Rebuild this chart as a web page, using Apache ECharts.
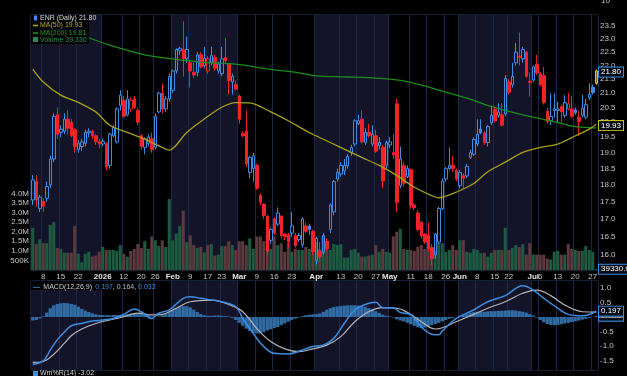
<!DOCTYPE html>
<html>
<head>
<meta charset="utf-8">
<script src="https://cdn.jsdelivr.net/npm/echarts@6/dist/echarts.min.js"></script>
<style>
html, body { margin: 0; padding: 0; background: #000; }
#main { width: 627px; height: 376px; }
</style>
</head>
<body>
<div id="main"></div>
<script>
// trading days per month
var dec25 = [3,4,5,8,9,10,11,12,15,16,17,18,19,22,23,24,26,29,30,31];
var jan26 = [2,5,6,7,8,9,12,13,14,15,16,20,21,22,23,26,27,28,29,30];
var feb26 = [2,3,4,5,6,9,10,11,12,13,17,18,19,20,23,24,25,26,27];
var mar26 = [2,3,4,5,6,9,10,11,12,13,16,17,18,19,20,23,24,25,26,27,30,31];
var apr26 = [1,2,6,7,8,9,10,13,14,15,16,17,20,21,22,23,24,27,28,29,30];
var may26 = [1,4,5,6,7,8,11,12,13,14,15,18,19,20,21,22,26,27,28,29];
var jun26 = [1,2,3,4,5,8,9,10,11,12,15,16,17,18,22,23,24,25,26,29,30];
var jul26 = [1,2,6,7,8,9,10,13,14,15,16,17,20,21,22,23,24,27,28];

var tickDates = ['2025-12-08','2025-12-15','2025-12-22','2026-01-02','2026-01-12','2026-01-20','2026-01-26',
  '2026-02-02','2026-02-09','2026-02-17','2026-02-23','2026-03-02','2026-03-09','2026-03-16','2026-03-23',
  '2026-04-01','2026-04-13','2026-04-20','2026-04-27','2026-05-01','2026-05-11','2026-05-18','2026-05-26',
  '2026-06-01','2026-06-08','2026-06-15','2026-06-22','2026-07-01','2026-07-06','2026-07-13','2026-07-20','2026-07-27'];
var tickLabels = ['8','15','22','2026','12','20','26','Feb','9','17','23','Mar','9','16','23',
  'Apr','13','20','27','May','11','18','26','Jun','8','15','22','Jul','6','13','20','27'];

var open = [17.55,18.1,17.3,17.5,17.6,18.0,18.8,20.25,19.66,19.7,
  20.1,20.0,19.75,19.1,19.2,19.3,19.65,19.7,19.55,19.35,
  19.28,19.3,18.6,19.55,19.35,20.57,20.75,20.25,20.45,20.8,
  20.4,19.55,19.17,19.3,19.45,19.17,20.35,21.0,20.45,20.8,
  21.1,21.8,22.55,22.6,22.25,22.1,21.75,21.75,22.4,22.0,
  21.8,22.12,22.3,21.8,21.7,22.3,22.05,21.4,21.3,20.9,
  19.62,19.7,18.38,18.5,18.6,17.68,17.43,17.08,16.4,17.0,
  16.85,17.08,16.57,16.55,16.6,16.53,16.42,16.28,16.8,16.8,
  16.65,15.85,16.1,16.07,16.37,16.7,17.2,18.18,18.33,18.43,
  18.58,19.0,19.28,19.95,20.1,19.33,19.66,19.28,19.55,19.22,
  19.17,18.6,19.25,19.0,20.63,17.98,18.6,18.25,18.47,17.4,
  17.17,16.9,16.57,16.53,16.2,16.0,16.35,17.3,18.18,18.5,
  18.6,18.43,17.98,18.28,18.27,18.85,18.95,19.28,19.77,19.64,
  19.33,19.98,20.43,20.23,20.25,20.28,21.4,21.3,22.1,22.35,
  22.25,22.5,21.43,21.47,22.05,21.7,21.63,20.37,20.05,20.4,
  20.4,20.53,20.23,20.45,20.45,20.42,20.17,20.23,20.17,20.84,
  21.2,21.35];
var high = [18.3,18.3,17.7,17.6,18.1,18.9,20.3,20.5,19.9,20.3,
  20.4,20.1,19.8,19.4,19.45,19.75,19.8,19.75,19.6,19.45,
  19.45,19.35,19.65,19.9,20.5,21.1,20.9,21.1,20.85,20.9,
  20.5,19.6,19.5,19.6,19.65,20.3,21.05,21.35,20.9,21.7,
  21.85,22.65,22.7,23.7,23.1,22.2,22.1,22.5,22.5,22.7,
  22.35,22.7,22.4,22.15,22.7,23.05,22.1,21.7,21.45,20.95,
  19.7,20.4,18.9,19.0,18.65,17.75,17.45,17.1,16.75,17.05,
  17.33,17.1,16.6,16.6,17.2,16.6,16.6,17.05,16.9,16.85,
  16.7,16.5,16.35,16.6,16.45,17.45,18.15,18.5,18.7,18.8,
  18.95,19.25,20.1,20.25,20.4,19.8,19.95,19.9,19.75,19.5,
  19.25,19.4,19.5,19.6,20.8,19.2,18.7,18.6,18.5,17.45,
  17.25,16.95,16.6,16.9,16.3,16.6,17.35,18.2,18.55,19.17,
  18.9,18.5,18.45,18.35,18.65,19.1,19.5,20.1,20.1,19.7,
  19.9,20.57,20.5,20.65,20.65,21.65,21.5,22.1,22.85,23.25,
  22.7,22.55,21.75,22.0,22.4,21.75,21.95,20.5,21.0,21.0,
  20.7,20.6,20.93,21.0,20.9,20.5,20.4,20.95,20.8,21.35,
  21.3,21.85];
var low = [17.4,17.35,17.2,17.2,17.5,17.9,18.7,19.45,19.5,19.6,
  19.6,19.5,19.0,19.0,19.05,19.2,19.5,19.45,19.25,19.15,
  19.2,18.45,18.5,19.5,19.3,20.4,20.15,20.2,20.35,20.45,
  19.9,19.1,18.95,19.2,19.0,19.1,20.3,20.3,20.35,20.7,
  21.0,21.7,22.4,21.6,22.1,21.2,21.55,21.6,21.9,21.9,
  21.7,22.0,21.8,21.7,21.6,22.1,20.95,20.95,21.1,19.95,
  19.5,18.55,18.2,18.1,17.85,17.4,17.0,16.0,16.3,16.55,
  16.8,16.45,16.4,16.2,16.5,16.2,16.35,16.2,16.6,16.55,
  16.0,15.75,15.8,16.0,16.1,16.6,17.1,18.1,18.25,18.3,
  18.5,18.9,19.2,19.9,19.3,19.25,19.5,19.2,19.0,19.1,
  17.9,18.5,19.15,18.8,17.2,17.9,17.95,18.2,17.3,17.25,
  16.65,16.45,16.3,16.1,15.72,15.9,16.3,17.25,18.1,18.45,
  18.4,18.1,17.9,17.9,18.2,18.8,18.9,19.2,19.6,19.25,
  19.2,19.9,20.0,20.15,19.85,20.2,20.95,21.2,22.0,22.0,
  22.1,21.55,20.88,21.4,21.65,21.25,20.6,19.95,19.9,20.15,
  20.0,20.0,20.15,20.4,20.15,20.25,19.55,20.15,20.1,20.75,
  20.95,21.3];
var close = [18.15,17.55,17.63,17.37,17.95,18.8,20.2,19.6,19.77,20.1,
  19.8,19.55,19.2,19.3,19.35,19.66,19.7,19.55,19.35,19.28,
  19.36,18.55,19.6,19.82,20.45,20.93,20.2,20.8,20.75,20.5,
  20.0,19.2,19.45,19.5,19.1,20.2,21.0,20.45,20.8,21.6,
  21.8,22.6,22.65,22.25,22.6,21.8,21.65,22.4,21.95,22.27,
  22.25,22.37,21.9,22.05,22.25,22.18,21.45,21.6,21.15,20.1,
  19.55,18.65,18.85,18.9,17.9,17.48,17.1,16.1,16.7,16.6,
  17.17,16.53,16.5,16.35,16.8,16.25,16.53,17.0,16.65,16.7,
  16.08,16.45,15.95,16.53,16.17,17.4,18.1,18.38,18.6,18.6,
  18.88,19.17,20.05,20.05,19.35,19.66,19.56,19.6,19.05,19.33,
  18.12,19.33,19.35,18.93,17.48,18.8,18.05,18.5,17.4,17.32,
  16.7,16.52,16.35,16.17,15.9,16.57,17.3,18.12,18.5,18.6,
  18.5,18.18,18.38,18.2,18.57,19.0,19.43,19.6,19.64,19.33,
  19.85,20.23,20.05,20.35,19.9,21.53,21.02,21.6,22.5,22.3,
  22.6,21.6,21.38,21.95,21.73,21.3,20.67,20.02,20.2,20.45,
  20.45,20.35,20.67,20.63,20.2,20.32,20.02,20.48,20.6,20.96,
  21.02,21.8];
// volume in millions of shares
var volumeM = [2.2,1.35,1.6,1.4,1.4,2.35,2.5,1.15,1.1,0.9,
  0.9,0.9,2.3,0.85,0.4,0.85,0.95,0.7,0.75,0.95,
  1.2,1.05,1.05,1.05,1.0,1.3,0.85,0.7,1.0,1.1,
  1.35,1.15,1.5,1.1,1.75,1.55,1.25,1.55,1.2,3.7,
  1.55,1.9,2.3,3.1,1.45,1.8,1.3,1.15,1.2,0.92,
  1.3,1.35,0.75,0.8,1.25,1.25,1.5,1.3,1.05,1.5,
  1.5,1.3,1.65,1.1,1.75,1.75,1.5,1.75,1.1,1.75,
  1.3,1.4,0.95,1.4,0.95,1.1,1.05,1.05,1.2,1.1,
  0.9,1.48,1.1,1.8,1.3,1.05,1.35,1.3,1.35,0.65,
  0.65,1.05,1.1,0.9,0.7,0.7,0.75,0.8,1.3,0.95,
  1.1,0.95,0.9,1.75,2.0,2.15,1.1,1.05,1.05,1.0,
  1.2,1.3,1.1,1.2,1.1,1.0,1.4,1.4,0.95,1.05,
  1.3,1.05,1.55,1.55,0.95,0.9,1.1,1.05,0.88,0.9,
  0.7,0.9,1.05,1.05,1.05,2.2,1.05,1.15,1.3,1.2,
  1.35,0.8,1.4,0.8,0.8,0.8,0.8,0.6,0.55,0.95,
  1.0,0.8,0.8,1.35,1.1,1.05,1.0,1.0,1.25,1.05,
  0.95,0.03933];

var ma50Pts = [[0,21.87],[3,21.4],[8,20.93],[13,20.68],[18,20.35],[22,19.9],[27,19.66],[32,19.44],[37,19.17],
  [39,19.08],[44,19.66],[49,20.11],[54,20.51],[58,20.67],[62,20.66],[68,20.35],[73,20.05],[78,19.72],[80,19.6],
  [85,19.33],[90,19.06],[94,18.85],[99,18.6],[104,18.29],[109,17.93],[114,17.68],[116,17.61],[118,17.66],
  [121,17.78],[126,18.04],[130,18.4],[135,18.7],[140,19.01],[145,19.17],[150,19.28],[154,19.49],[159,19.77],[161,19.93]];
var ma200Pts = [[15,23.1],[22,22.77],[32,22.4],[40,22.25],[49,22.12],[58,22.05],[68,21.86],[76,21.73],[81,21.62],
  [90,21.58],[99,21.53],[105,21.46],[112,21.26],[117,21.07],[121,20.93],[126,20.75],[130,20.57],[135,20.4],
  [140,20.25],[145,20.12],[150,19.99],[154,19.87],[159,19.82],[161,19.81]];

var macdPts = [[0,-1.61],[3,-1.5],[5,-1.13],[7,-0.78],[9,-0.52],[11,-0.3],[14,-0.22],[17,-0.14],[20,-0.1],[23,-0.05],
  [26,0.09],[29,0.27],[31,0.18],[34,-0.05],[36,0.13],[39,0.24],[43,0.64],[45,0.69],[48,0.64],[51,0.58],[53,0.55],
  [58,0.35],[60,-0.05],[63,-0.56],[66,-1.01],[69,-1.24],[73,-1.26],[77,-1.13],[80,-1.01],[83,-0.96],[86,-0.73],
  [89,-0.22],[92,0.24],[95,0.43],[98,0.5],[100,0.32],[103,0.32],[105,0.16],[108,0.07],[111,-0.33],[114,-0.59],
  [116,-0.61],[117,-0.48],[121,-0.05],[126,0.24],[130,0.52],[135,0.73],[140,1.07],[143,0.92],[146,0.64],
  [150,0.3],[153,0.09],[157,0.04],[161,0.197]];
var signalPts = [[0,-1.55],[3,-1.52],[6,-1.27],[9,-0.9],[11,-0.64],[14,-0.41],[18,-0.22],[22,-0.1],[26,0.01],
  [30,0.13],[34,0.07],[37,0.09],[41,0.3],[45,0.52],[51,0.58],[56,0.43],[60,0.18],[64,-0.39],[68,-0.84],
  [72,-1.09],[76,-1.18],[80,-1.09],[84,-0.96],[88,-0.67],[92,-0.16],[96,0.18],[100,0.32],[104,0.3],[107,0.16],
  [111,-0.16],[115,-0.41],[121,-0.16],[126,0.09],[130,0.3],[135,0.52],[140,0.81],[144,0.92],[148,0.73],
  [152,0.41],[157,0.18],[161,0.164]];
var macdHist = [-0.12,-0.1,-0.05,0.02,0.15,0.3,0.4,0.45,0.47,0.48,
  0.47,0.45,0.42,0.35,0.28,0.22,0.17,0.13,0.09,0.07,
  0.07,0.06,0.06,0.07,0.07,0.07,0.08,0.1,0.12,0.13,
  0.12,0.1,0.07,0.05,0.02,0.0,0.02,0.06,0.1,0.17,
  0.24,0.3,0.34,0.37,0.37,0.33,0.25,0.17,0.1,0.06,
  0.04,0.04,0.05,0.05,0.04,0.03,0.02,-0.03,-0.1,-0.2,
  -0.3,-0.4,-0.48,-0.54,-0.56,-0.56,-0.52,-0.46,-0.42,-0.38,
  -0.34,-0.28,-0.22,-0.16,-0.1,-0.06,-0.02,0.03,0.06,0.08,
  0.09,0.1,0.12,0.18,0.25,0.3,0.34,0.36,0.38,0.39,
  0.4,0.4,0.4,0.39,0.37,0.35,0.3,0.26,0.2,0.14,
  0.08,0.04,0.02,-0.02,-0.08,-0.12,-0.15,-0.2,-0.25,-0.3,
  -0.35,-0.38,-0.36,-0.32,-0.28,-0.24,-0.2,-0.15,-0.1,-0.06,
  -0.03,0.0,0.04,0.08,0.12,0.15,0.17,0.18,0.18,0.18,
  0.19,0.2,0.2,0.21,0.21,0.22,0.23,0.23,0.22,0.2,
  0.18,0.15,0.1,0.05,-0.02,-0.1,-0.18,-0.24,-0.27,-0.28,
  -0.27,-0.25,-0.22,-0.2,-0.17,-0.15,-0.12,-0.09,-0.06,-0.03,
  0.0,0.033];

var priceTicks = [16,16.5,17,17.5,18,18.5,19,19.5,20,20.5,21,21.5,22,22.5,23,23.5];
var volumeTicks = [0.5,1,1.5,2,2.5,3,3.5,4];
var macdTicks = [-1.5,-1,-0.5,0,0.5,1];

// ---------- derived ----------
var months = [['2025-12', dec25], ['2026-01', jan26], ['2026-02', feb26], ['2026-03', mar26],
  ['2026-04', apr26], ['2026-05', may26], ['2026-06', jun26], ['2026-07', jul26]];
var dates = [];
months.forEach(function (m) {
  m[1].forEach(function (d) { dates.push(m[0] + '-' + (d < 10 ? '0' + d : d)); });
});
var n = dates.length;
var labelOf = {};
tickDates.forEach(function (d, k) { labelOf[d] = tickLabels[k]; });
var isTick = function (i) { return labelOf[dates[i]] !== undefined; };
var isMonthStart = function (i) { return i === 0 || dates[i].slice(0, 7) !== dates[i - 1].slice(0, 7); };

var BLUE = '#3f8be0', RED = '#f2222a', LAST = '#d8c828';
var GRID = '#17284a', BORDER = '#25406e', TXT = '#c4c4c4';
var lastIdx = n - 1;

var candleData = close.map(function (c, i) {
  var prev = i > 0 ? close[i - 1] : open[i];
  var col = i === lastIdx ? LAST : (c >= prev ? BLUE : RED);
  var fill = i === lastIdx ? 'rgba(140,130,10,0.75)' : (c < open[i] ? col : 'rgba(0,0,0,0)');
  return {
    value: [Math.log(open[i]), Math.log(c), Math.log(low[i]), Math.log(high[i])],
    itemStyle: { color: fill, color0: fill, borderColor: col, borderColor0: col }
  };
});
var volData = volumeM.map(function (v, i) {
  var prev = i > 0 ? close[i - 1] : open[i];
  return { value: v, itemStyle: { color: close[i] >= prev ? '#1d5a40' : '#5a3a3d' } };
});
var logPts = function (pts) { return pts.map(function (p) { return [p[0], Math.log(p[1])]; }); };

function boxLabel(text, border, color) {
  return {
    show: true, position: 'end', distance: 1, formatter: text,
    color: color || '#ffffff', fontSize: 8, backgroundColor: '#050a14',
    borderColor: border, borderWidth: 1, padding: [1, 2, 0, 2]
  };
}
function boxLine(yv, text, border, color) {
  return {
    silent: true, symbol: 'none', animation: false,
    lineStyle: { color: 'rgba(0,0,0,0)', width: 0 },
    data: [{ yAxis: yv, label: boxLabel(text, border, color) }]
  };
}

var catAxis = function (gi, showLabels) {
  return {
    type: 'category', gridIndex: gi, data: dates, boundaryGap: true,
    axisLine: { show: false }, axisTick: { show: false },
    axisLabel: {
      show: showLabels, interval: function (i) { return isTick(i); }, margin: 3,
      color: TXT, fontSize: 8,
      formatter: function (v) {
        var t = labelOf[v];
        return /^[0-9]+$/.test(t) && t.length < 3 ? t : '{b|' + t + '}';
      },
      rich: { b: { fontWeight: 'bold', color: '#e6e6e6', fontSize: 8 } }
    },
    splitLine: { show: true, interval: function (i) { return isTick(i); }, lineStyle: { color: GRID, width: 1 } },
    splitArea: { show: true, interval: function (i) { return isMonthStart(i); },
      areaStyle: { color: ['#141429', '#000000'] } }
  };
};
var idxAxis = function (gi) {
  return { type: 'value', gridIndex: gi, min: -0.5, max: n - 0.5, show: false };
};

var option = {
  backgroundColor: '#000000',
  animation: false,
  textStyle: { fontFamily: 'Liberation Sans, Arial, sans-serif' },
  grid: [
    { left: 31, right: 29, top: 15, height: 255, show: true, borderColor: BORDER, borderWidth: 1 },
    { left: 31, right: 29, top: 281, height: 89, show: true, borderColor: BORDER, borderWidth: 1 }
  ],
  xAxis: [catAxis(0, true), idxAxis(0), catAxis(1, false), idxAxis(1)],
  yAxis: [
    {
      type: 'value', gridIndex: 0, position: 'right', min: Math.log(15.6), max: Math.log(23.95),
      axisLine: { show: false },
      axisTick: { show: false, customValues: priceTicks.map(Math.log) },
      axisLabel: { customValues: priceTicks.map(Math.log), margin: 2, color: TXT, fontSize: 8,
        formatter: function (v) { return Math.exp(v).toFixed(1); } },
      splitLine: { show: true, customValues: priceTicks.map(Math.log), lineStyle: { color: GRID, width: 1 } }
    },
    {
      type: 'value', gridIndex: 0, position: 'left', min: 0, max: 13.3,
      axisLine: { show: false }, axisTick: { show: false, customValues: volumeTicks },
      axisLabel: { customValues: volumeTicks, margin: 2, color: TXT, fontSize: 8,
        formatter: function (v) { return v < 1 ? Math.round(v * 1000) + 'K' : v.toFixed(1) + 'M'; } },
      splitLine: { show: false }
    },
    {
      type: 'value', gridIndex: 1, position: 'right', min: -1.81, max: 1.23,
      axisLine: { show: false },
      axisTick: { show: false, customValues: macdTicks },
      axisLabel: { customValues: macdTicks, margin: 2, color: TXT, fontSize: 8,
        formatter: function (v) { return v.toFixed(1); } },
      splitLine: { show: true, customValues: macdTicks, lineStyle: { color: GRID, width: 1 } }
    }
  ],
  series: [
    {
      name: 'Volume', type: 'bar', xAxisIndex: 0, yAxisIndex: 1, data: volData,
      barCategoryGap: '12%', z: 1,
      markLine: boxLine(volumeM[lastIdx], (volumeM[lastIdx] * 1e6).toFixed(1), BLUE)
    },
    {
      name: 'ENR', type: 'candlestick', xAxisIndex: 0, yAxisIndex: 0, data: candleData,
      barWidth: 3, z: 3, itemStyle: { borderWidth: 1 },
      markLine: boxLine(Math.log(close[lastIdx]), close[lastIdx].toFixed(2), BLUE)
    },
    {
      name: 'MA(200)', type: 'line', xAxisIndex: 1, yAxisIndex: 0, data: logPts(ma200Pts),
      smooth: 0.3, showSymbol: false, lineStyle: { color: '#1c8c1c', width: 1.3 }, z: 4,
      markLine: boxLine(Math.log(ma200Pts[ma200Pts.length - 1][1]), ma200Pts[ma200Pts.length - 1][1].toFixed(2), '#1c9c1c')
    },
    {
      name: 'MA(50)', type: 'line', xAxisIndex: 1, yAxisIndex: 0, data: logPts(ma50Pts),
      smooth: 0.3, showSymbol: false, lineStyle: { color: '#a8a01c', width: 1.3 }, z: 4,
      markLine: boxLine(Math.log(ma50Pts[ma50Pts.length - 1][1]), ma50Pts[ma50Pts.length - 1][1].toFixed(2), '#c8c020')
    },
    {
      name: 'Hist', type: 'bar', xAxisIndex: 2, yAxisIndex: 2, data: macdHist,
      barCategoryGap: '5%', itemStyle: { color: 'rgba(52,118,178,0.9)' }, z: 2,
      markLine: boxLine(macdHist[lastIdx], macdHist[lastIdx].toFixed(3), BLUE)
    },
    {
      name: 'Signal', type: 'line', xAxisIndex: 3, yAxisIndex: 2, data: signalPts,
      smooth: 0.4, showSymbol: false, lineStyle: { color: '#b4b4bc', width: 1.2 }, z: 3,
      markLine: boxLine(signalPts[signalPts.length - 1][1], signalPts[signalPts.length - 1][1].toFixed(3), '#9a9aa4')
    },
    {
      name: 'MACD', type: 'line', xAxisIndex: 3, yAxisIndex: 2, data: macdPts,
      smooth: 0.4, showSymbol: false, lineStyle: { color: '#3d8de2', width: 1.5 }, z: 4,
      markLine: boxLine(macdPts[macdPts.length - 1][1], macdPts[macdPts.length - 1][1].toFixed(3), BLUE)
    }
  ],
  graphic: [
    { type: 'text', left: 601, top: -3, style: { text: '10', fill: TXT, fontSize: 8 } },
    { type: 'rect', left: 31, top: 15, shape: { width: 58, height: 29 }, style: { fill: '#000000' }, z: 50 },
    { type: 'rect', left: 34, top: 15.5, shape: { width: 3, height: 5 }, style: { fill: BLUE }, z: 51 },
    { type: 'line', shape: { x1: 33, y1: 25.5, x2: 38, y2: 25.5 }, style: { stroke: '#b8b020', lineWidth: 1.5 }, z: 51 },
    { type: 'line', shape: { x1: 33, y1: 33, x2: 38, y2: 33 }, style: { stroke: '#1e9a1e', lineWidth: 1.5 }, z: 51 },
    { type: 'rect', left: 33, top: 37, shape: { width: 5, height: 5 }, style: { fill: '#2a8a5a' }, z: 51 },
    { type: 'text', left: 40, top: 14.5, z: 51,
      style: { text: 'ENR (Daily) ' + close[lastIdx].toFixed(2), fill: '#d8d8d8', fontSize: 7 } },
    { type: 'text', left: 40, top: 22, z: 51,
      style: { text: 'MA(50) ' + ma50Pts[ma50Pts.length - 1][1].toFixed(2), fill: '#b8b020', fontSize: 7 } },
    { type: 'text', left: 40, top: 29.5, z: 51,
      style: { text: 'MA(200) ' + ma200Pts[ma200Pts.length - 1][1].toFixed(2), fill: '#1e9a1e', fontSize: 7 } },
    { type: 'text', left: 40, top: 37, z: 51,
      style: { text: 'Volume ' + Math.round(volumeM[lastIdx] * 1e6).toLocaleString('en-US'), fill: '#2f9060', fontSize: 7 } },
    { type: 'rect', left: 31, top: 281, shape: { width: 108, height: 9 }, style: { fill: '#000000' }, z: 50 },
    { type: 'text', left: 33, top: 281.5, z: 51,
      style: {
        text: '{i|\u2014} {t|MACD(12,26,9)} {b|' + macdPts[macdPts.length - 1][1].toFixed(3) + '}{t|, }{g|' +
          signalPts[signalPts.length - 1][1].toFixed(3) + '}{t|, }{b|' + macdHist[lastIdx].toFixed(3) + '}',
        rich: {
          i: { fill: BLUE, fontSize: 7, fontWeight: 'bold' },
          t: { fill: '#d0d0d0', fontSize: 7 },
          b: { fill: BLUE, fontSize: 7 },
          g: { fill: '#b4b4bc', fontSize: 7 }
        }
      } },
    { type: 'rect', left: 33, top: 371, shape: { width: 5, height: 5 }, style: { fill: BLUE }, z: 51 },
    { type: 'text', left: 40, top: 370, z: 51, style: { text: 'Wm%R(14) -3.02', fill: '#d0d0d0', fontSize: 7 } }
  ]
};

var chart = echarts.init(document.getElementById('main'));
chart.setOption(option);
</script>
</body>
</html>
